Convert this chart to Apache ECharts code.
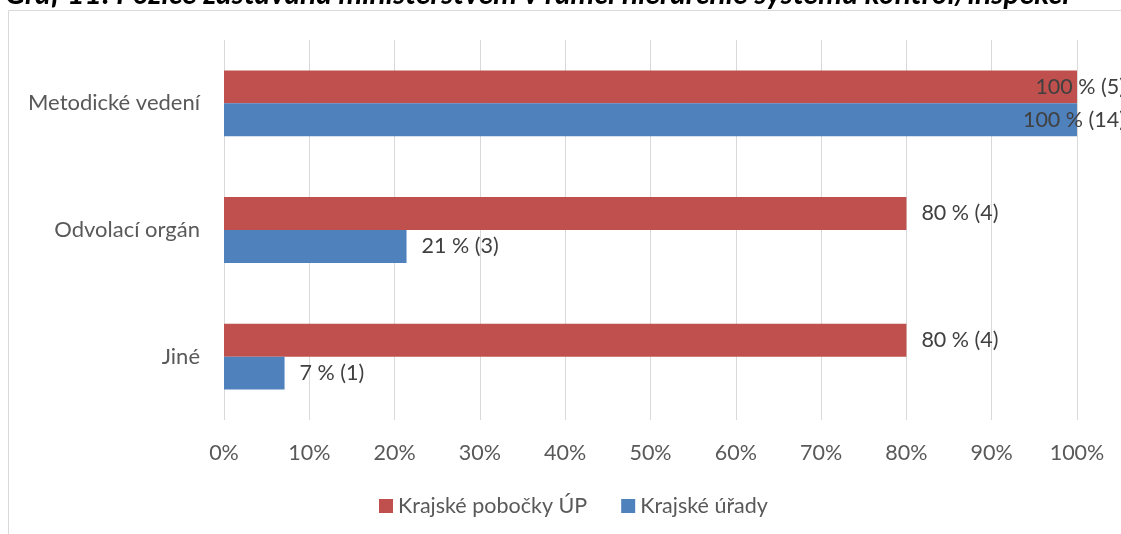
<!DOCTYPE html>
<html>
<head>
<meta charset="utf-8">
<script src="https://cdn.jsdelivr.net/npm/echarts@6/dist/echarts.min.js"></script>
<style>
html,body{margin:0;padding:0;background:#fff;}
#c{width:1121px;height:534px;}
</style>
</head>
<body>
<div id="c"></div>
<script>
const titleText = 'Graf 11: Pozice zastávaná ministerstvem v rámci hierarchie systému kontrol/inspekcí';
const categories = ['Metodické vedení', 'Odvolací orgán', 'Jiné'];
const seriesNames = ['Krajské pobočky ÚP', 'Krajské úřady'];
const pobockyPct = [100, 80, 80];
const pobockyCount = [5, 4, 4];
const uradyPct = [100, 21.4, 7.1];
const uradyCount = [14, 3, 1];
const xTicks = [0, 10, 20, 30, 40, 50, 60, 70, 80, 90, 100];

const FONT = 'Lato';
const FS = 21.5;
const colors = ['#C0504D', '#4F81BD'];

function makeData(pcts, counts) {
  return pcts.map((v, i) => {
    const item = { value: v, count: counts[i] };
    if (v >= 100) {
      item.label = { position: 'insideRight', offset: [63, 0] };
    }
    return item;
  });
}

const labelCfg = {
  show: true,
  position: 'right',
  distance: 15,
  color: '#404040',
  fontFamily: FONT,
  fontSize: FS,
  formatter: p => Math.round(p.value) + ' % (' + p.data.count + ')'
};

const chart = echarts.init(document.getElementById('c'), null, { renderer: 'canvas' });
chart.setOption({
  animation: false,
  backgroundColor: '#fff',
  textStyle: { fontFamily: FONT },
  graphic: [
    {
      type: 'rect',
      shape: { x: 8.5, y: 10.5, width: 1200, height: 600 },
      style: { fill: 'none', stroke: '#D9D9D9', lineWidth: 1 },
      silent: true, z: -1
    },
    {
      type: 'text',
      left: 5,
      top: -21,
      style: {
        text: titleText,
        fontFamily: FONT,
        fontSize: 30,
        fontStyle: 'italic',
        fontWeight: 'bold',
        fill: '#000'
      }
    }
  ],
  legend: {
    left: 374,
    top: 490,
    itemWidth: 14,
    itemHeight: 14,
    itemGap: 34,
    icon: 'rect',
    textStyle: { color: '#595959', fontSize: FS, fontFamily: FONT },
    data: seriesNames
  },
  grid: { left: 224, right: 44, top: 40, bottom: 114, containLabel: false },
  xAxis: {
    type: 'value',
    min: 0,
    max: 100,
    interval: 10,
    axisLine: { show: false },
    axisTick: { show: false },
    splitLine: { show: true, lineStyle: { color: '#D9D9D9', width: 1 } },
    axisLabel: {
      color: '#595959', fontSize: FS, fontFamily: FONT, margin: 22,
      formatter: v => xTicks.includes(v) ? v + '%' : ''
    }
  },
  yAxis: {
    type: 'category',
    inverse: true,
    data: categories,
    axisLine: { show: false },
    axisTick: { show: false },
    axisLabel: { color: '#595959', fontSize: 22, fontFamily: FONT, margin: 24 }
  },
  series: [
    {
      name: seriesNames[0],
      type: 'bar',
      data: makeData(pobockyPct, pobockyCount),
      itemStyle: { color: colors[0] },
      barGap: '0%',
      barCategoryGap: '48%',
      label: labelCfg
    },
    {
      name: seriesNames[1],
      type: 'bar',
      data: makeData(uradyPct, uradyCount),
      itemStyle: { color: colors[1] },
      barGap: '0%',
      barCategoryGap: '48%',
      label: labelCfg
    }
  ]
});
</script>
</body>
</html>
